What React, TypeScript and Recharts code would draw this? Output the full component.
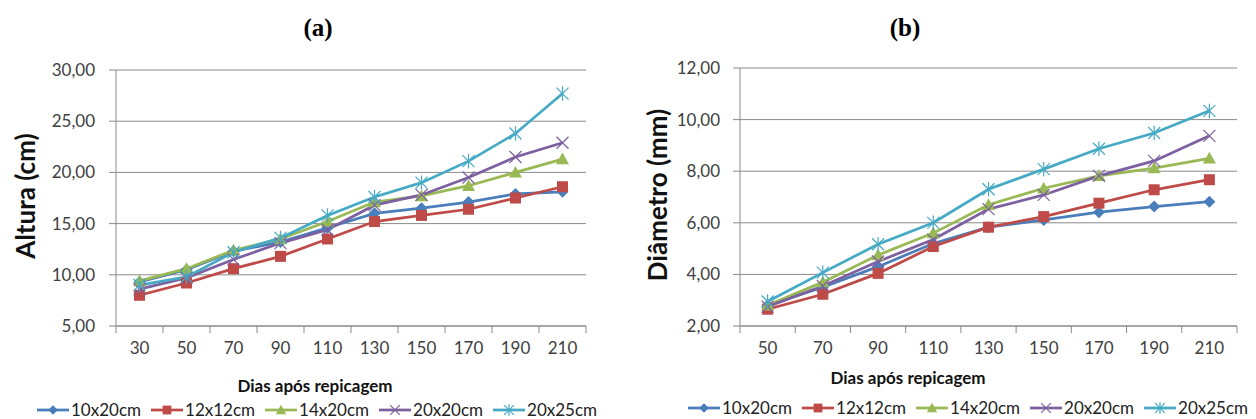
import { CartesianGrid, Line, LineChart, XAxis, YAxis } from "recharts";

// dias após repicagem
const daysA = [30, 50, 70, 90, 110, 130, 150, 170, 190, 210];
const daysB = [50, 70, 90, 110, 130, 150, 170, 190, 210];
const tickMarksA = [20, 40, 60, 80, 100, 120, 140, 160, 180, 200, 220];
const tickMarksB = [40, 60, 80, 100, 120, 140, 160, 180, 200, 220];

const seriesNames = ["10x20cm", "12x12cm", "14x20cm", "20x20cm", "20x25cm"];

// (a) Altura (cm)
const altura10x20 = [9.3, 10.5, 12.3, 13.2, 14.6, 16.0, 16.5, 17.1, 17.9, 18.1];
const altura12x12 = [8.0, 9.2, 10.6, 11.8, 13.5, 15.2, 15.8, 16.4, 17.5, 18.6];
const altura14x20 = [9.4, 10.6, 12.4, 13.5, 15.2, 17.1, 17.7, 18.7, 20.0, 21.3];
const altura20x20 = [8.6, 9.7, 11.5, 13.1, 14.4, 16.8, 17.8, 19.5, 21.5, 22.9];
const altura20x25 = [9.0, 9.8, 12.2, 13.6, 15.8, 17.6, 19.0, 21.1, 23.8, 27.7];
const alturaTicks = [5, 10, 15, 20, 25, 30];

// (b) Diâmetro (mm)
const diam10x20 = [2.8, 3.5, 4.3, 5.2, 5.83, 6.11, 6.41, 6.63, 6.82];
const diam12x12 = [2.65, 3.23, 4.04, 5.08, 5.83, 6.24, 6.76, 7.28, 7.67];
const diam14x20 = [2.8, 3.7, 4.75, 5.6, 6.7, 7.34, 7.82, 8.12, 8.5];
const diam20x20 = [2.75, 3.55, 4.5, 5.35, 6.53, 7.08, 7.82, 8.4, 9.37];
const diam20x25 = [2.95, 4.07, 5.17, 6.0, 7.3, 8.08, 8.87, 9.48, 10.34];
const diamTicks = [2, 4, 6, 8, 10, 12];

const colors = ["#4A7EBB", "#BE4B48", "#98B954", "#7D60A0", "#46AAC5"];
const markers = ["diamond", "square", "triangle", "x", "star"];

const gray = "#8a8a8a";
const textColor = "#404040";
const font = "Lato, 'Open Sans', sans-serif";

const fmt = (v: number) => v.toFixed(2).replace(".", ",");

function Marker({ kind, cx, cy, color, s = 1 }: { kind: string; cx: number; cy: number; color: string; s?: number }) {
  if (kind === "diamond") {
    const r = 6 * s;
    return <path d={`M${cx},${cy - r}L${cx + r},${cy}L${cx},${cy + r}L${cx - r},${cy}Z`} fill={color} />;
  }
  if (kind === "square") {
    const r = 5.5 * s;
    return <rect x={cx - r} y={cy - r} width={2 * r} height={2 * r} fill={color} />;
  }
  if (kind === "triangle") {
    const r = 6.5 * s;
    return <path d={`M${cx},${cy - r}L${cx + r},${cy + r * 0.8}L${cx - r},${cy + r * 0.8}Z`} fill={color} />;
  }
  if (kind === "x") {
    const r = 6 * s;
    return (
      <g stroke={color} strokeWidth={1.2}>
        <line x1={cx - r} y1={cy - r} x2={cx + r} y2={cy + r} />
        <line x1={cx - r} y1={cy + r} x2={cx + r} y2={cy - r} />
      </g>
    );
  }
  const r = 6 * s;
  return (
    <g stroke={color} strokeWidth={1.2}>
      <line x1={cx - r} y1={cy - r} x2={cx + r} y2={cy + r} />
      <line x1={cx - r} y1={cy + r} x2={cx + r} y2={cy - r} />
      <line x1={cx} y1={cy - r * 1.2} x2={cx} y2={cy + r * 1.2} />
    </g>
  );
}

function makeXTick(labels: number[]) {
  return (props: any) => {
    const { x, y, payload } = props;
    const v = payload.value;
    if (labels.includes(v)) {
      return (
        <text x={x} y={y + 28} textAnchor="middle" fill={textColor} fontSize={17} fontFamily={font}>
          {v}
        </text>
      );
    }
    return <line x1={x} x2={x} y1={y} y2={y + 7} stroke={gray} strokeWidth={1} />;
  };
}

function Panel({
  days,
  marks,
  series,
  ticks,
  width,
  margin,
  tickMargin,
}: {
  days: number[];
  marks: number[];
  series: number[][];
  ticks: number[];
  width: number;
  margin: { top: number; right: number; bottom: number; left: number };
  tickMargin: number;
}) {
  const data = days.map((d, i) => {
    const row: Record<string, number> = { day: d };
    series.forEach((s, k) => {
      row[seriesNames[k]] = s[i];
    });
    return row;
  });
  return (
    <LineChart width={width} height={419} data={data} margin={margin}>
      <CartesianGrid vertical={false} stroke={gray} strokeWidth={1} />
      <XAxis
        dataKey="day"
        type="number"
        domain={[marks[0], marks[marks.length - 1]]}
        ticks={[...marks, ...days].sort((a, b) => a - b)}
        interval={0}
        tickSize={0}
        tickMargin={0}
        tickLine={false}
        axisLine={{ stroke: gray }}
        tick={makeXTick(days)}
        height={30}
      />
      <YAxis
        type="number"
        domain={[ticks[0], ticks[ticks.length - 1]]}
        ticks={ticks}
        interval={0}
        width={60}
        tickSize={7}
        tickMargin={tickMargin}
        tickLine={{ stroke: gray }}
        axisLine={{ stroke: gray }}
        tickFormatter={fmt}
        tick={{ fill: textColor, fontSize: 17, fontFamily: font }}
      />
      {seriesNames.map((name, k) => (
        <Line
          key={name}
          dataKey={name}
          stroke={colors[k]}
          strokeWidth={2.75}
          isAnimationActive={false}
          dot={(p: any) => (
            <Marker key={`${name}-${p.index}`} kind={markers[k]} cx={p.cx} cy={p.cy} color={colors[k]} />
          )}
          activeDot={false}
        />
      ))}
    </LineChart>
  );
}

function LegendRow({ left, top, gap }: { left: number; top: number; gap: number }) {
  return (
    <div style={{ position: "absolute", left, top, display: "flex", alignItems: "center", gap, height: 14 }}>
      {seriesNames.map((name, k) => (
        <div key={name} style={{ display: "flex", alignItems: "center", height: 14 }}>
          <svg width={32} height={14}>
            <line x1={0} x2={32} y1={7} y2={7} stroke={colors[k]} strokeWidth={2.75} />
            <Marker kind={markers[k]} cx={16} cy={7} color={colors[k]} s={0.8} />
          </svg>
          <span style={{ fontFamily: font, fontSize: 17, lineHeight: "14px", color: "#222", marginLeft: 2 }}>
            {name}
          </span>
        </div>
      ))}
    </div>
  );
}

const titleStyle: React.CSSProperties = {
  position: "absolute",
  fontFamily: "'Liberation Serif', 'Times New Roman', serif",
  fontWeight: "bold",
  fontSize: 25,
  transform: "translate(-50%, -50%)",
  whiteSpace: "nowrap",
};

const axisTitleStyle: React.CSSProperties = {
  position: "absolute",
  fontFamily: font,
  fontWeight: "bold",
  fontSize: 26,
  color: "#111",
  whiteSpace: "nowrap",
};

export default function App() {
  return (
    <div style={{ position: "absolute", left: 0, top: 0, width: 1256, height: 419, background: "#fff", overflow: "hidden" }}>
      <div style={{ position: "absolute", left: 0, top: 0 }}>
        <Panel
          days={daysA}
          marks={tickMarksA}
          series={[altura10x20, altura12x12, altura14x20, altura20x20, altura20x25]}
          ticks={alturaTicks}
          width={630}
          margin={{ top: 70, right: 44, bottom: 63, left: 56 }}
          tickMargin={14}
        />
      </div>
      <div style={{ position: "absolute", left: 630, top: 0 }}>
        <Panel
          days={daysB}
          marks={tickMarksB}
          series={[diam10x20, diam12x12, diam14x20, diam20x20, diam20x25]}
          ticks={diamTicks}
          width={626}
          margin={{ top: 68, right: 19, bottom: 63, left: 50 }}
          tickMargin={13}
        />
      </div>

      <div style={{ ...titleStyle, left: 318, top: 28 }}>(a)</div>
      <div style={{ ...titleStyle, left: 905, top: 28 }}>(b)</div>

      <div style={{ ...axisTitleStyle, left: 25, top: 196, transform: "translate(-50%, -50%) rotate(-90deg)" }}>
        Altura (cm)
      </div>
      <div style={{ ...axisTitleStyle, left: 657, top: 195, transform: "translate(-50%, -50%) rotate(-90deg)" }}>
        Diâmetro (mm)
      </div>

      <div style={{ ...axisTitleStyle, fontSize: 17, left: 315, top: 385, transform: "translate(-50%, -50%)" }}>
        Dias após repicagem
      </div>
      <div style={{ ...axisTitleStyle, fontSize: 17, left: 908, top: 377, transform: "translate(-50%, -50%)" }}>
        Dias após repicagem
      </div>

      <LegendRow left={37} top={403} gap={10} />
      <LegendRow left={688} top={401} gap={10} />
    </div>
  );
}
